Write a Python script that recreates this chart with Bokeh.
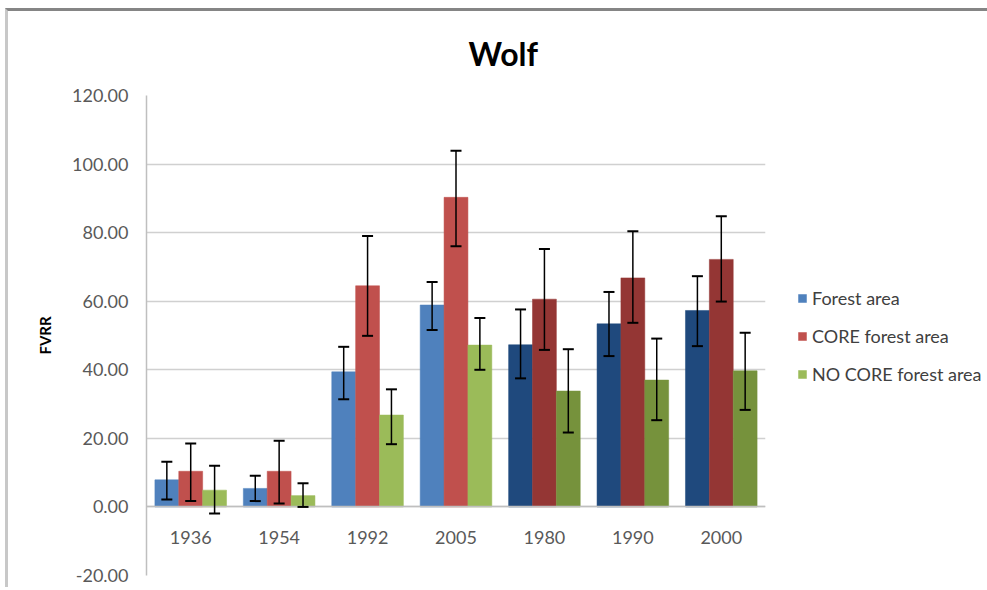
from bokeh.plotting import figure
from bokeh.models import (ColumnDataSource, FactorRange, Range1d, Whisker, TeeHead,
                          NumeralTickFormatter, Legend, LegendItem, FixedTicker)
from bokeh.transform import dodge
from bokeh.embed import file_html
from bokeh.resources import INLINE

# ---- data ----
categories = ["1936", "1954", "1992", "2005", "1980", "1990", "2000"]
forest = [7.9, 5.4, 39.4, 58.9, 47.3, 53.4, 57.3]
forest_lo = [2.2, 1.7, 31.4, 51.6, 37.5, 44.0, 46.9]
forest_hi = [13.2, 9.1, 46.7, 65.6, 57.6, 62.7, 67.3]
core = [10.4, 10.4, 64.5, 90.3, 60.6, 66.8, 72.2]
core_lo = [1.7, 1.0, 49.9, 76.0, 45.8, 53.7, 59.9]
core_hi = [18.5, 19.3, 79.0, 103.9, 75.2, 80.4, 84.8]
nocore = [4.9, 3.3, 26.8, 47.2, 33.8, 37.0, 39.7]
nocore_lo = [-1.9, 0.0, 18.3, 40.0, 21.7, 25.3, 28.3]
nocore_hi = [12.0, 6.9, 34.3, 55.1, 46.0, 49.1, 50.8]
y_ticks = [-20, 0, 20, 40, 60, 80, 100, 120]
series_names = ["Forest area", "CORE forest area", "NO CORE forest area"]

light = ["#4F81BD", "#C0504D", "#9BBB59"]
dark = ["#1F497D", "#943634", "#76923C"]
n_light = 4  # first four groups use the light palette

src = ColumnDataSource(dict(
    cat=categories,
    forest=forest, forest_lo=forest_lo, forest_hi=forest_hi,
    core=core, core_lo=core_lo, core_hi=core_hi,
    nocore=nocore, nocore_lo=nocore_lo, nocore_hi=nocore_hi,
    c_forest=[light[0] if i < n_light else dark[0] for i in range(len(categories))],
    c_core=[light[1] if i < n_light else dark[1] for i in range(len(categories))],
    c_nocore=[light[2] if i < n_light else dark[2] for i in range(len(categories))],
))

p = figure(frame_width=619, frame_height=480, x_range=FactorRange(*categories, range_padding=0),
           y_range=Range1d(-20, 120), output_backend="svg", toolbar_location=None,
           min_border_left=138, min_border_right=0, min_border_top=84, min_border_bottom=12)
p.x_range.factor_padding = 0
p.styles = {"margin-top": "8px", "margin-left": "5px",
            "border-top": "3px solid #858585", "border-left": "3px solid #c8c8c8"}

p.title.text = "Wolf"
p.title.align = "left"
p.title.offset = 322
p.title.vertical_align = "top"
p.title.text_font = "Lato"
p.title.text_font_size = "32px"
p.title.text_font_style = "bold"
p.title.text_color = "#000000"
p.title.standoff = 41

p.outline_line_color = None
p.background_fill_color = "white"
p.border_fill_color = "white"

bw = 0.27
offs = [-bw, 0.0, bw]
keys = ["forest", "core", "nocore"]
renderers = []
for k, off in zip(keys, offs):
    r = p.vbar(x=dodge("cat", off, range=p.x_range), top=k, bottom=0, width=bw,
               source=src, fill_color="c_" + k, line_color="c_" + k, line_width=0.5)
    renderers.append(r)

for k, off in zip(keys, offs):
    w = Whisker(base=dodge("cat", off, range=p.x_range), upper=k + "_hi", lower=k + "_lo",
                source=src, line_color="black", line_width=1.5, level="overlay",
                upper_head=TeeHead(size=11, line_color="black", line_width=2),
                lower_head=TeeHead(size=11, line_color="black", line_width=2))
    p.add_layout(w)

# axes
p.yaxis.ticker = FixedTicker(ticks=y_ticks)
p.yaxis.formatter = NumeralTickFormatter(format="0.00")
p.yaxis.major_label_text_font = "Lato"
p.yaxis.major_label_text_font_size = "18px"
p.yaxis.major_label_text_color = "#595959"
p.yaxis.major_tick_line_color = None
p.yaxis.minor_tick_line_color = None
p.yaxis.axis_line_color = "#bfbfbf"
p.yaxis.axis_line_width = 1.5
p.yaxis.major_label_standoff = 12
p.yaxis.axis_label = "FVRR"
p.yaxis.axis_label_text_font = "Lato"
p.yaxis.axis_label_text_font_size = "15px"
p.yaxis.axis_label_text_font_style = "bold"
p.yaxis.axis_label_text_color = "#000000"
p.yaxis.axis_label_standoff = 15

p.xaxis.fixed_location = 0
p.xaxis.major_label_text_font = "Lato"
p.xaxis.major_label_text_font_size = "18px"
p.xaxis.major_label_text_color = "#595959"
p.xaxis.major_tick_line_color = None
p.xaxis.minor_tick_line_color = None
p.xaxis.axis_line_color = "#bfbfbf"
p.xaxis.axis_line_width = 1.5
p.xaxis.major_label_standoff = 18

p.xgrid.grid_line_color = None
p.ygrid.grid_line_color = "#d0d0d0"
p.ygrid.grid_line_width = 1.5

legend = Legend(items=[LegendItem(label=n, renderers=[r], index=0)
                       for n, r in zip(series_names, renderers)],
                location=(32, 190), orientation="vertical",
                label_text_font="Lato", label_text_font_size="18px",
                label_text_color="#404040", glyph_width=10, glyph_height=10,
                label_height=20, spacing=16, padding=0, margin=18, label_standoff=5,
                border_line_color=None, background_fill_alpha=0)
p.add_layout(legend, "right")

open("out.html", "w").write(file_html(p, INLINE))
